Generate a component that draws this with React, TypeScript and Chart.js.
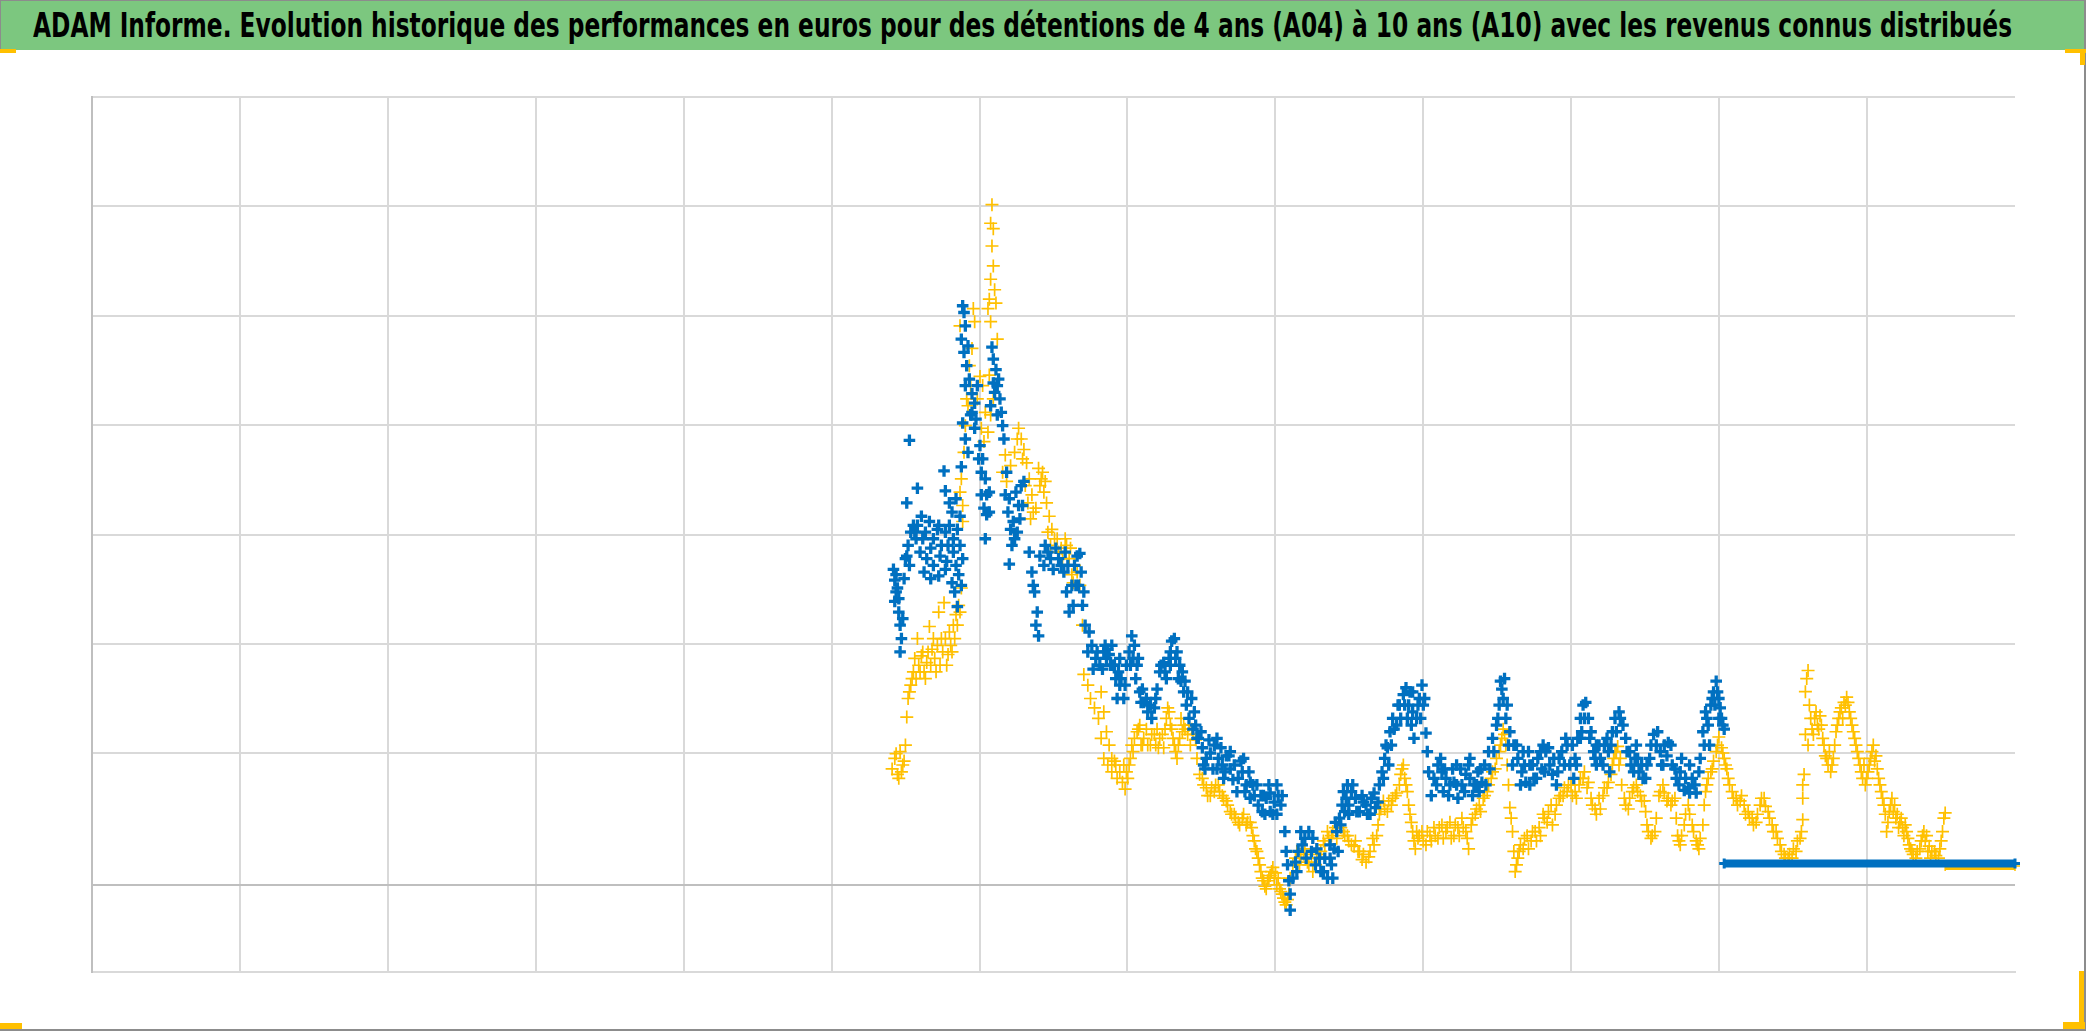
import React, { useEffect, useRef } from "react";
import { Chart, registerables } from "chart.js";

Chart.register(...registerables);

const TITLE =
  "ADAM Informe. Evolution historique des performances en euros pour des détentions de 4 ans (A04) à 10 ans (A10) avec les revenus connus distribués";

const X_MIN = 1994;
const X_MAX = 2007;
const X_TICKS = [1994, 1995, 1996, 1997, 1998, 1999, 2000, 2001, 2002, 2003, 2004, 2005, 2006];
const Y_MIN = -396;
const Y_MAX = 3603;
const Y_TICKS = [-396, 0, 603, 1103, 1603, 2103, 2603, 3103, 3603];

type P = [number, number];

// Série A04 (bleue)
const A04_1999: P[] = [
  [1999.418, 1444], [1999.427, 1395], [1999.436, 1341], [1999.427, 1298], [1999.454, 1249], [1999.463, 1189],
  [1999.472, 1128], [1999.463, 1067], [1999.445, 1359], [1999.481, 1219],
  [1999.436, 1420], [1999.454, 1310], [1999.49, 1402], [1999.508, 1505],
  [1999.499, 1493], [1999.517, 1554], [1999.535, 1614], [1999.553, 1645], [1999.571, 1584], [1999.526, 1462],
  [1999.508, 1748], [1999.526, 2034], [1999.58, 1815],
  [1999.58, 1645], [1999.607, 1687], [1999.634, 1614], [1999.661, 1663], [1999.688, 1584], [1999.715, 1627],
  [1999.742, 1554], [1999.769, 1614], [1999.796, 1645], [1999.823, 1584], [1999.85, 1627],
  [1999.598, 1523], [1999.643, 1493], [1999.688, 1462], [1999.733, 1505], [1999.778, 1481], [1999.823, 1523],
  [1999.868, 1554], [1999.625, 1432], [1999.67, 1402], [1999.724, 1414], [1999.769, 1444], [1999.814, 1383],
  [1999.859, 1420], [1999.877, 1371], [1999.832, 1341], [1999.85, 1274],
  [1999.562, 1614], [1999.616, 1584], [1999.67, 1541], [1999.724, 1645], [1999.787, 1554], [1999.841, 1462],
  [1999.886, 1493],
  [1999.76, 1894], [1999.769, 1803], [1999.796, 1748], [1999.814, 1706], [1999.841, 1767], [1999.868, 1687],
  [1999.886, 2649], [1999.895, 2618], [1999.904, 2557], [1999.877, 2496], [1999.895, 2436], [1999.913, 2375],
  [1999.931, 2314], [1999.949, 2247], [1999.967, 2204], [1999.886, 2113], [1999.904, 2040], [1999.922, 1979],
  [1999.877, 1913], [1999.94, 2150], [1999.985, 2284], [1999.967, 2089],
  [1999.904, 2284], [1999.922, 2466], [1999.949, 2162], [1999.976, 2131], [1999.994, 1949],
];

const A04_2000: P[] = [
  [2000.003, 2010], [2000.021, 1949], [2000.039, 1858], [2000.012, 1785], [2000.03, 1724], [2000.048, 1694],
  [2000.039, 1584], [2000.066, 1797], [2000.012, 1888], [2000.048, 1785], [2000.066, 1706],
  [2000.084, 2460], [2000.093, 2405], [2000.111, 2357], [2000.129, 2314], [2000.102, 2253], [2000.138, 2223],
  [2000.12, 2150], [2000.156, 2101], [2000.075, 2192], [2000.093, 2296], [2000.12, 2284], [2000.147, 2162],
  [2000.165, 2040], [2000.183, 1888], [2000.201, 1767], [2000.228, 1663], [2000.246, 1797], [2000.291, 1736],
  [2000.174, 1785], [2000.192, 1706], [2000.21, 1627], [2000.219, 1554], [2000.201, 1468], [2000.237, 1584],
  [2000.264, 1736], [2000.282, 1827], [2000.3, 1846], [2000.273, 1675], [2000.255, 1614],
  [2000.336, 1523], [2000.354, 1432], [2000.372, 1341], [2000.39, 1249], [2000.399, 1140], [2000.381, 1189],
  [2000.363, 1371], [2000.408, 1505], [2000.444, 1554], [2000.48, 1493], [2000.516, 1541], [2000.552, 1462],
  [2000.498, 1444], [2000.435, 1462], [2000.462, 1523], [2000.534, 1493],
  [2000.57, 1432], [2000.588, 1341], [2000.606, 1249], [2000.624, 1371], [2000.642, 1462], [2000.66, 1505],
  [2000.678, 1517], [2000.669, 1371], [2000.633, 1280], [2000.579, 1523], [2000.597, 1462], [2000.651, 1371],
  [2000.687, 1432], [2000.705, 1341],
  [2000.696, 1280], [2000.714, 1189], [2000.732, 1067], [2000.759, 1097], [2000.786, 1037], [2000.813, 1006],
  [2000.84, 1067], [2000.867, 1079], [2000.894, 1097], [2000.912, 1006], [2000.921, 945], [2000.93, 854],
  [2000.768, 988], [2000.831, 988], [2000.741, 1158], [2000.795, 1067], [2000.858, 1037], [2000.885, 1006],
  [2000.849, 1097], [2000.876, 1055], [2000.903, 1006], [2000.939, 976], [2000.948, 915], [2000.975, 854],
  [2000.957, 945], [2000.993, 1006], [2000.948, 1037], [2000.984, 915],
];

const A04_2001: P[] = [
  [2001.011, 1067], [2001.029, 1140], [2001.047, 1097], [2001.065, 1006], [2001.056, 945], [2001.083, 884],
  [2001.092, 836], [2001.074, 1037], [2001.02, 1006], [2001.038, 1037], [2001.101, 897], [2001.128, 854],
  [2001.155, 824], [2001.191, 854], [2001.227, 1006], [2001.254, 976], [2001.29, 1067], [2001.326, 1037],
  [2001.344, 945], [2001.371, 976], [2001.407, 884],
  [2001.11, 836], [2001.137, 793], [2001.164, 763], [2001.182, 811], [2001.2, 897], [2001.218, 976],
  [2001.245, 1018], [2001.263, 945], [2001.281, 1037], [2001.299, 1116], [2001.317, 1128], [2001.335, 1067],
  [2001.353, 1006], [2001.362, 933], [2001.29, 1006],
  [2001.38, 884], [2001.398, 824], [2001.416, 763], [2001.443, 714], [2001.461, 732], [2001.479, 672],
  [2001.506, 629], [2001.533, 580], [2001.56, 605], [2001.587, 641], [2001.614, 580], [2001.641, 550],
  [2001.668, 592], [2001.695, 532], [2001.722, 550], [2001.749, 489], [2001.776, 519], [2001.803, 459],
  [2001.83, 471], [2001.857, 410], [2001.884, 367], [2001.911, 337], [2001.938, 398], [2001.965, 422],
  [2001.992, 380],
  [2001.515, 550], [2001.605, 672], [2001.695, 611], [2001.785, 580], [2001.875, 459], [2001.92, 410],
  [2001.452, 793], [2001.65, 489], [2001.74, 428], [2001.83, 398], [2001.578, 532], [2001.965, 337],
  [2001.389, 933], [2001.434, 854], [2001.47, 672], [2001.497, 702], [2001.524, 532], [2001.551, 665],
  [2001.605, 532], [2001.632, 629], [2001.659, 519], [2001.686, 592], [2001.713, 483], [2001.767, 568],
  [2001.794, 428], [2001.821, 519], [2001.848, 459], [2001.902, 410], [2001.929, 325], [2001.956, 459],
  [2001.983, 325],
];

const A04_2002: P[] = [
  [2002.019, 410], [2002.037, 367], [2002.01, 325], [2002.01, 459], [2002.046, 410],
  [2002.064, 246], [2002.073, 155], [2002.082, 94], [2002.091, 21], [2002.1, -40], [2002.1, -113],
  [2002.118, 33], [2002.136, 106], [2002.154, 155], [2002.181, 185], [2002.208, 124], [2002.226, 246],
  [2002.244, 155], [2002.271, 94], [2002.298, 124], [2002.325, 63], [2002.352, 33], [2002.379, 94],
  [2002.397, 167], [2002.415, 246], [2002.433, 307], [2002.451, 367], [2002.478, 398], [2002.496, 325],
  [2002.424, 155], [2002.37, 124], [2002.388, 33],
  [2002.145, 63], [2002.172, 246], [2002.199, 215], [2002.253, 215], [2002.28, 167], [2002.307, 63],
  [2002.334, 124], [2002.37, 185], [2002.406, 288], [2002.46, 428], [2002.487, 459],
  [2002.442, 276], [2002.469, 337], [2002.496, 367], [2002.523, 459], [2002.541, 398], [2002.568, 337],
  [2002.595, 380], [2002.622, 325], [2002.649, 398], [2002.676, 355], [2002.703, 459], [2002.721, 519],
  [2002.739, 580], [2002.757, 629], [2002.775, 702], [2002.793, 763], [2002.82, 732], [2002.838, 824],
  [2002.865, 872], [2002.883, 903], [2002.901, 824], [2002.919, 732], [2002.937, 672], [2002.955, 763],
  [2002.973, 854], [2002.991, 915], [2002.928, 884], [2002.892, 763],
  [2002.514, 428], [2002.55, 337], [2002.586, 410], [2002.613, 367], [2002.64, 325], [2002.667, 422],
  [2002.694, 380], [2002.73, 489], [2002.748, 641], [2002.766, 550], [2002.784, 641], [2002.802, 714],
  [2002.829, 824], [2002.847, 763], [2002.874, 824], [2002.91, 884], [2002.928, 793], [2002.964, 824],
  [2002.982, 763], [2003.0, 824],
];

const A04_2003: P[] = [
  [2003.009, 854], [2003.018, 696], [2003.027, 611], [2003.036, 519], [2003.054, 410], [2003.072, 489],
  [2003.099, 550], [2003.126, 519], [2003.153, 489], [2003.18, 459], [2003.207, 471], [2003.234, 398],
  [2003.261, 459], [2003.288, 507], [2003.315, 489], [2003.342, 459], [2003.369, 519], [2003.396, 471],
  [2003.414, 550], [2003.441, 611], [2003.468, 672], [2003.495, 732], [2003.513, 824], [2003.531, 897],
  [2003.549, 945], [2003.567, 824], [2003.585, 702], [2003.612, 641], [2003.639, 580], [2003.666, 519],
  [2003.693, 471], [2003.72, 550], [2003.747, 489], [2003.774, 580], [2003.801, 532], [2003.828, 611],
  [2003.855, 550], [2003.882, 580], [2003.909, 519], [2003.936, 611], [2003.963, 672], [2003.99, 550],
  [2003.135, 428], [2003.225, 550], [2003.315, 580], [2003.378, 428], [2003.72, 459], [2003.81, 641],
  [2003.9, 459], [2003.675, 611],
  [2003.09, 459], [2003.117, 580], [2003.144, 532], [2003.171, 410], [2003.198, 532], [2003.225, 459],
  [2003.252, 532], [2003.279, 428], [2003.306, 550], [2003.333, 410], [2003.36, 459], [2003.387, 532],
  [2003.423, 459], [2003.45, 532], [2003.477, 611], [2003.504, 763], [2003.522, 933], [2003.54, 854],
  [2003.558, 763], [2003.576, 641], [2003.603, 550], [2003.63, 641], [2003.657, 459], [2003.684, 550],
  [2003.711, 611], [2003.738, 550], [2003.765, 489], [2003.792, 611], [2003.819, 519], [2003.846, 629],
  [2003.873, 507], [2003.918, 580], [2003.954, 550], [2003.972, 641],
];

const A04_2004: P[] = [
  [2004.017, 489], [2004.008, 641], [2004.026, 580], [2004.044, 672], [2004.062, 763], [2004.08, 824],
  [2004.098, 836], [2004.116, 763], [2004.134, 702], [2004.152, 611], [2004.17, 550], [2004.197, 580],
  [2004.224, 641], [2004.251, 611], [2004.278, 702], [2004.296, 763], [2004.323, 793], [2004.35, 732],
  [2004.377, 611], [2004.404, 550], [2004.431, 580], [2004.458, 519], [2004.485, 489], [2004.512, 550],
  [2004.539, 641], [2004.557, 690], [2004.584, 702], [2004.602, 611], [2004.629, 641], [2004.656, 653],
  [2004.683, 550], [2004.71, 489], [2004.728, 459], [2004.746, 580], [2004.764, 434], [2004.791, 446],
  [2004.818, 489], [2004.845, 422], [2004.872, 580], [2004.89, 702], [2004.908, 793], [2004.926, 732],
  [2004.944, 824], [2004.962, 884], [2004.98, 933], [2004.998, 854], [2005.016, 763], [2005.034, 714],
  [2004.17, 641], [2004.26, 519], [2004.44, 641], [2004.62, 550], [2004.8, 550], [2004.062, 672],
  [2004.935, 641], [2004.998, 763],
  [2004.035, 550], [2004.071, 702], [2004.089, 763], [2004.125, 672], [2004.161, 580], [2004.188, 641],
  [2004.215, 550], [2004.242, 672], [2004.269, 641], [2004.305, 702], [2004.332, 763], [2004.368, 672],
  [2004.395, 611], [2004.422, 519], [2004.449, 580], [2004.476, 550], [2004.503, 489], [2004.53, 580],
  [2004.575, 641], [2004.611, 550], [2004.647, 592], [2004.674, 641], [2004.701, 532], [2004.737, 519],
  [2004.773, 489], [2004.8, 422], [2004.836, 459], [2004.863, 519], [2004.899, 641], [2004.917, 763],
  [2004.953, 854], [2004.971, 824], [2004.989, 884], [2005.007, 811], [2005.025, 732],
];

const A04_FLAT: P[] = [[2005.034, 100], [2007.0, 100]];

// Série A10 (jaune)
const A10_1999: P[] = [
  [1999.409, 532], [1999.427, 580], [1999.445, 507], [1999.463, 611], [1999.481, 550], [1999.499, 641],
  [1999.454, 489], [1999.436, 602], [1999.472, 519], [1999.49, 568],
  [1999.508, 769], [1999.517, 854], [1999.535, 915], [1999.553, 976], [1999.571, 945], [1999.589, 1006],
  [1999.607, 1049], [1999.625, 976], [1999.643, 1018], [1999.661, 1183], [1999.679, 1079], [1999.697, 1037],
  [1999.715, 1097], [1999.733, 1006], [1999.751, 1067], [1999.769, 1128], [1999.787, 1055], [1999.805, 1097],
  [1999.823, 1189], [1999.841, 1237], [1999.859, 1280], [1999.724, 1249], [1999.76, 1292], [1999.58, 1128],
  [1999.526, 884], [1999.544, 945], [1999.562, 1037], [1999.598, 976], [1999.616, 1067], [1999.634, 945],
  [1999.652, 1067], [1999.67, 1006], [1999.688, 1128], [1999.706, 976], [1999.742, 1128], [1999.778, 1006],
  [1999.796, 1158], [1999.814, 1067], [1999.832, 1128], [1999.85, 1189], [1999.868, 1249],
  [1999.877, 1359], [1999.886, 1663], [1999.886, 1736], [1999.868, 1797], [1999.877, 1858], [1999.895, 1979],
  [1999.904, 2101], [1999.922, 2192], [1999.94, 2284], [1999.931, 2375], [1999.949, 2454], [1999.868, 2557],
  [1999.958, 2636], [1999.967, 2576], [1999.913, 2223], [1999.985, 2223],
];

const A10_2000: P[] = [
  [2000.003, 2326], [2000.021, 2284], [2000.039, 2162], [2000.057, 2071], [2000.075, 2150], [2000.012, 2089],
  [2000.03, 2028], [2000.066, 2332], [2000.093, 2223], [2000.12, 2496], [2000.057, 2636], [2000.075, 2576],
  [2000.111, 2661],
  [2000.084, 3111], [2000.075, 3026], [2000.084, 2922], [2000.093, 2831], [2000.075, 2770], [2000.102, 2722],
  [2000.066, 2679], [2000.093, 3001],
  [2000.156, 1888], [2000.183, 1846], [2000.174, 1967], [2000.264, 2089], [2000.282, 2040], [2000.3, 1992],
  [2000.318, 1931], [2000.309, 1827], [2000.327, 1748], [2000.345, 1675], [2000.363, 1706], [2000.399, 1906],
  [2000.417, 1858], [2000.435, 1797], [2000.453, 1748], [2000.462, 1614], [2000.48, 1554], [2000.507, 1584],
  [2000.534, 1523], [2000.561, 1493], [2000.588, 1554], [2000.606, 1493], [2000.624, 1420], [2000.642, 1462],
  [2000.21, 1918], [2000.237, 1979], [2000.255, 2040], [2000.291, 1949], [2000.336, 1858], [2000.354, 1785],
  [2000.381, 1724], [2000.408, 1827], [2000.426, 1888], [2000.444, 1846], [2000.471, 1687], [2000.489, 1627],
  [2000.525, 1584], [2000.552, 1541], [2000.579, 1584], [2000.615, 1541], [2000.633, 1383], [2000.66, 1432],
  [2000.678, 1371], [2000.696, 1189], [2000.705, 964], [2000.732, 915], [2000.75, 854], [2000.777, 811],
  [2000.804, 763], [2000.822, 672], [2000.84, 580], [2000.867, 550], [2000.894, 519], [2000.912, 568],
  [2000.93, 489],
  [2000.822, 884], [2000.84, 793], [2000.858, 702], [2000.876, 641], [2000.894, 580], [2000.921, 550],
  [2000.948, 519], [2000.966, 471], [2000.984, 440], [2000.975, 550], [2000.993, 519],
];

const A10_2001: P[] = [
  [2001.002, 489], [2001.02, 580], [2001.038, 611], [2001.065, 702], [2001.083, 732], [2001.11, 672],
  [2001.137, 641], [2001.164, 690], [2001.191, 641], [2001.218, 672], [2001.245, 629], [2001.263, 763],
  [2001.281, 793], [2001.299, 714], [2001.317, 641], [2001.335, 580], [2001.353, 672], [2001.38, 732],
  [2001.407, 690], [2001.434, 714], [2001.461, 665],
  [2001.092, 641], [2001.2, 714], [2001.362, 763], [2001.425, 641],
  [2001.011, 550], [2001.029, 641], [2001.047, 672], [2001.074, 714], [2001.101, 641], [2001.128, 714],
  [2001.155, 641], [2001.182, 690], [2001.209, 629], [2001.236, 690], [2001.254, 714], [2001.272, 811],
  [2001.29, 732], [2001.308, 672], [2001.326, 611], [2001.344, 641], [2001.371, 702], [2001.389, 714],
  [2001.416, 732], [2001.443, 690], [2001.47, 580],
  [2001.488, 507], [2001.515, 459], [2001.542, 410], [2001.569, 446], [2001.596, 459], [2001.623, 428],
  [2001.65, 398], [2001.677, 367], [2001.704, 325], [2001.731, 307], [2001.758, 276], [2001.785, 325],
  [2001.812, 288], [2001.839, 264], [2001.857, 203], [2001.875, 155], [2001.893, 94], [2001.911, 33],
  [2001.929, -4], [2001.947, 21], [2001.965, 45], [2001.983, 82],
  [2001.506, 489], [2001.533, 446], [2001.56, 410], [2001.587, 428], [2001.614, 459], [2001.641, 410],
  [2001.668, 386], [2001.695, 337], [2001.722, 325], [2001.749, 288], [2001.776, 307], [2001.803, 276],
  [2001.83, 288], [2001.848, 227], [2001.866, 167], [2001.884, 124], [2001.902, 63], [2001.92, 21],
  [2001.938, -16], [2001.956, 33], [2001.974, 63], [2001.992, 33],
];

const A10_2002: P[] = [
  [2002.001, 57], [2002.019, 33], [2002.037, -28], [2002.055, -58], [2002.073, -89], [2002.091, -40],
  [2002.01, 2], [2002.028, -16], [2002.046, -40], [2002.064, -77], [2002.082, -65], [2002.1, 33],
  [2002.118, 94], [2002.145, 155], [2002.172, 124], [2002.199, 167], [2002.226, 94], [2002.253, 63],
  [2002.28, 124], [2002.307, 155], [2002.334, 185], [2002.361, 215], [2002.388, 246], [2002.415, 215],
  [2002.136, 124], [2002.163, 94], [2002.19, 142], [2002.217, 106], [2002.244, 124], [2002.271, 94],
  [2002.298, 142], [2002.325, 203], [2002.352, 246], [2002.379, 227], [2002.406, 264],
  [2002.442, 264], [2002.469, 227], [2002.496, 203], [2002.532, 179], [2002.559, 155], [2002.586, 118],
  [2002.613, 106], [2002.64, 155], [2002.667, 185], [2002.694, 276], [2002.712, 349], [2002.73, 386],
  [2002.757, 337], [2002.784, 367], [2002.811, 410], [2002.838, 459], [2002.856, 532], [2002.874, 489],
  [2002.892, 428], [2002.91, 325], [2002.928, 246], [2002.946, 167], [2002.964, 215], [2002.991, 246],
  [2002.46, 246], [2002.487, 227], [2002.514, 185], [2002.541, 203], [2002.568, 155], [2002.595, 142],
  [2002.631, 130], [2002.658, 215], [2002.685, 227], [2002.703, 325], [2002.739, 349], [2002.766, 386],
  [2002.793, 398], [2002.82, 422], [2002.847, 507], [2002.865, 550], [2002.883, 459], [2002.901, 367],
  [2002.919, 288], [2002.937, 203], [2002.955, 246], [2002.973, 227], [2003.0, 203],
];

const A10_2003: P[] = [
  [2003.018, 185], [2003.045, 227], [2003.072, 264], [2003.099, 215], [2003.126, 276], [2003.153, 246],
  [2003.18, 288], [2003.207, 227], [2003.234, 264], [2003.261, 307], [2003.288, 246], [2003.306, 167],
  [2003.324, 276], [2003.351, 325], [2003.378, 367], [2003.405, 398], [2003.432, 428], [2003.459, 489],
  [2003.486, 532], [2003.513, 611], [2003.531, 672], [2003.54, 714], [2003.558, 641], [2003.567, 550],
  [2003.576, 459], [2003.585, 355], [2003.603, 246], [2003.612, 155], [2003.621, 63], [2003.639, 124],
  [2003.657, 185], [2003.684, 215], [2003.711, 167], [2003.738, 246], [2003.765, 203], [2003.792, 227],
  [2003.819, 307], [2003.846, 337], [2003.873, 276], [2003.9, 367], [2003.927, 410], [2003.954, 446],
  [2003.981, 459],
  [2003.027, 246], [2003.054, 203], [2003.081, 227], [2003.108, 264], [2003.135, 215], [2003.162, 264],
  [2003.189, 215], [2003.216, 276], [2003.243, 227], [2003.27, 264], [2003.297, 215], [2003.333, 307],
  [2003.36, 349], [2003.387, 337], [2003.414, 410], [2003.441, 459], [2003.468, 519], [2003.495, 580],
  [2003.522, 641], [2003.549, 690], [2003.594, 307], [2003.63, 94], [2003.648, 155], [2003.675, 167],
  [2003.702, 227], [2003.729, 203], [2003.756, 246], [2003.783, 264], [2003.81, 325], [2003.837, 288],
  [2003.864, 367], [2003.891, 325], [2003.918, 398], [2003.945, 410], [2003.972, 428], [2003.999, 459],
];

const A10_2004: P[] = [
  [2004.008, 410], [2004.035, 398], [2004.062, 489], [2004.089, 519], [2004.116, 471], [2004.143, 367],
  [2004.17, 325], [2004.197, 349], [2004.224, 446], [2004.251, 471], [2004.278, 550], [2004.296, 611],
  [2004.314, 635], [2004.332, 580], [2004.359, 398], [2004.386, 349], [2004.413, 428], [2004.44, 459],
  [2004.467, 410], [2004.494, 386], [2004.512, 276], [2004.539, 215], [2004.566, 246], [2004.593, 410],
  [2004.62, 459], [2004.647, 386], [2004.674, 367], [2004.701, 398], [2004.719, 227], [2004.737, 185],
  [2004.764, 276], [2004.791, 367], [2004.818, 276], [2004.845, 203], [2004.863, 167], [2004.89, 276],
  [2004.908, 428], [2004.926, 489], [2004.953, 532], [2004.98, 611],
  [2004.026, 428], [2004.053, 459], [2004.08, 489], [2004.107, 446], [2004.134, 398], [2004.161, 349],
  [2004.188, 398], [2004.215, 410], [2004.242, 446], [2004.269, 507], [2004.287, 580], [2004.305, 611],
  [2004.323, 550], [2004.341, 459], [2004.368, 367], [2004.395, 398], [2004.422, 446], [2004.449, 428],
  [2004.476, 386], [2004.503, 337], [2004.521, 246], [2004.548, 227], [2004.575, 307], [2004.602, 428],
  [2004.629, 422], [2004.656, 398], [2004.683, 386], [2004.71, 307], [2004.728, 203], [2004.746, 227],
  [2004.773, 325], [2004.8, 325], [2004.827, 246], [2004.854, 185], [2004.872, 215], [2004.899, 367],
  [2004.917, 459], [2004.944, 519], [2004.962, 568], [2004.989, 641],
];

const A10_2005: P[] = [
  [2004.998, 678], [2005.016, 629], [2005.034, 580], [2005.052, 532], [2005.07, 459], [2005.097, 398],
  [2005.124, 367], [2005.151, 410], [2005.178, 325], [2005.205, 307], [2005.232, 276], [2005.259, 325],
  [2005.286, 398], [2005.313, 361], [2005.34, 307], [2005.367, 246], [2005.394, 215], [2005.421, 155],
  [2005.448, 124], [2005.475, 142], [2005.502, 167], [2005.529, 203], [2005.556, 246], [2005.565, 398],
  [2005.565, 459], [2005.574, 507], [2005.565, 300],
  [2005.025, 605], [2005.043, 550], [2005.061, 489], [2005.088, 428], [2005.115, 398], [2005.142, 386],
  [2005.169, 367], [2005.196, 337], [2005.223, 307], [2005.25, 288], [2005.277, 367], [2005.304, 398],
  [2005.331, 337], [2005.358, 276], [2005.385, 246], [2005.412, 185], [2005.439, 142], [2005.466, 124],
  [2005.493, 124], [2005.52, 155], [2005.547, 215],
  [2005.583, 885], [2005.592, 945], [2005.601, 982], [2005.61, 824], [2005.583, 690], [2005.601, 641],
  [2005.628, 714], [2005.646, 763], [2005.664, 732], [2005.682, 775], [2005.7, 672], [2005.718, 592],
  [2005.736, 550], [2005.754, 519], [2005.772, 580], [2005.79, 702], [2005.808, 763], [2005.826, 811],
  [2005.844, 836], [2005.862, 860], [2005.88, 793], [2005.898, 732], [2005.916, 672], [2005.934, 611],
  [2005.952, 550], [2005.97, 489], [2005.988, 459],
  [2005.619, 763], [2005.637, 690], [2005.655, 793], [2005.673, 714], [2005.691, 732], [2005.709, 641],
  [2005.727, 580], [2005.745, 611], [2005.763, 550], [2005.781, 641], [2005.799, 732], [2005.817, 793],
  [2005.835, 763], [2005.853, 824], [2005.871, 836], [2005.889, 763], [2005.907, 702], [2005.925, 641],
  [2005.943, 580], [2005.961, 519], [2005.979, 550], [2005.997, 489],
];

const A10_2006: P[] = [
  [2006.006, 519], [2006.024, 580], [2006.042, 641], [2006.06, 592], [2006.078, 489], [2006.096, 428],
  [2006.114, 367], [2006.132, 246], [2006.15, 337], [2006.168, 398], [2006.186, 367], [2006.204, 325],
  [2006.222, 288], [2006.24, 264], [2006.258, 276], [2006.276, 215], [2006.294, 167], [2006.312, 142],
  [2006.339, 155], [2006.366, 203], [2006.384, 246], [2006.402, 227], [2006.42, 179], [2006.438, 155],
  [2006.465, 136], [2006.492, 167], [2006.51, 246], [2006.519, 307], [2006.528, 331],
  [2006.015, 550], [2006.033, 611], [2006.051, 568], [2006.069, 532], [2006.087, 459], [2006.105, 398],
  [2006.123, 325], [2006.141, 288], [2006.159, 367], [2006.177, 337], [2006.195, 307], [2006.213, 264],
  [2006.231, 307], [2006.249, 227], [2006.267, 246], [2006.285, 185], [2006.303, 155], [2006.33, 124],
  [2006.357, 167], [2006.375, 227], [2006.393, 203], [2006.411, 155], [2006.429, 124], [2006.456, 155],
  [2006.483, 124], [2006.501, 203],
];

const A10_FLAT: P[] = [[2006.528, 88], [2007.0, 88]];

const BLUE = "#0070C0";
const YELLOW = "#FFC000";
const GREEN = "#7cc77f";
const GRID = "#d9d9d9";
const AXIS = "#bfbfbf";

const toXY = (arr: P[]) => arr.map(([x, y]) => ({ x, y }));

export default function App() {
  const canvasRef = useRef<HTMLCanvasElement | null>(null);
  const titleRef = useRef<HTMLSpanElement | null>(null);

  useEffect(() => {
    document.body.style.margin = "0";
    const fit = () => {
      const el = titleRef.current;
      if (!el) return;
      el.style.transform = "none";
      const w = el.getBoundingClientRect().width;
      if (w > 0) el.style.transform = `scaleX(${1979 / w})`;
    };
    fit();
    if ((document as any).fonts && (document as any).fonts.ready) {
      (document as any).fonts.ready.then(fit);
    }

    const canvas = canvasRef.current;
    if (!canvas) return;
    const chart = new Chart(canvas, {
      type: "scatter",
      data: {
        datasets: [
          {
            label: "A04",
            data: toXY(A04_FLAT),
            showLine: true,
            borderColor: BLUE,
            backgroundColor: BLUE,
            borderWidth: 8,
            pointStyle: "cross",
            pointRadius: 5,
            pointBorderWidth: 3,
            clip: false,
            order: 0,
          } as any,
          {
            label: "A04",
            data: toXY([...A04_1999, ...A04_2000, ...A04_2001, ...A04_2002, ...A04_2003, ...A04_2004]),
            borderColor: BLUE,
            backgroundColor: BLUE,
            pointStyle: "cross",
            pointRadius: 5.8,
            pointBorderWidth: 3.3,
            clip: false,
            order: 1,
          } as any,
          {
            label: "A10",
            data: toXY(A10_FLAT),
            showLine: true,
            borderColor: YELLOW,
            backgroundColor: YELLOW,
            borderWidth: 8,
            pointStyle: "cross",
            pointRadius: 5,
            pointBorderWidth: 1.5,
            clip: false,
            order: 2,
          } as any,
          {
            label: "A10",
            data: toXY([
              ...A10_1999, ...A10_2000, ...A10_2001, ...A10_2002, ...A10_2003, ...A10_2004, ...A10_2005, ...A10_2006,
            ]),
            borderColor: YELLOW,
            backgroundColor: YELLOW,
            pointStyle: "cross",
            pointRadius: 6.5,
            pointBorderWidth: 1.7,
            clip: false,
            order: 3,
          } as any,
        ],
      },
      options: {
        responsive: false,
        animation: false,
        devicePixelRatio: 1,
        layout: { padding: { left: 92, top: 97, right: 71, bottom: 59 } },
        plugins: {
          legend: { display: false },
          tooltip: { enabled: false },
          title: { display: false },
        },
        scales: {
          x: {
            type: "linear",
            min: X_MIN,
            max: X_MAX,
            afterBuildTicks: (s: any) => {
              s.ticks = X_TICKS.map((v) => ({ value: v }));
            },
            afterFit: (s: any) => {
              s.height = 0;
            },
            ticks: { display: false },
            grid: { color: GRID, lineWidth: 2, drawTicks: false },
            border: { display: true, color: GRID, width: 2 },
          },
          y: {
            type: "linear",
            min: Y_MIN,
            max: Y_MAX,
            afterBuildTicks: (s: any) => {
              s.ticks = Y_TICKS.map((v) => ({ value: v }));
            },
            afterFit: (s: any) => {
              s.width = 0;
            },
            ticks: { display: false },
            grid: {
              color: (ctx: any) => (ctx.tick && ctx.tick.value === 0 ? AXIS : GRID),
              lineWidth: 2,
              drawTicks: false,
            },
            border: { display: true, color: AXIS, width: 2 },
          },
        },
      } as any,
    });
    return () => chart.destroy();
  }, []);

  const mark = (left: number, top: number, width: number, height: number) => (
    <div style={{ position: "absolute", left, top, width, height, background: YELLOW }} />
  );

  return (
    <div
      style={{
        position: "relative",
        width: 2086,
        height: 1031,
        background: "#ffffff",
        overflow: "hidden",
      }}
    >
      <canvas
        ref={canvasRef}
        width={2086}
        height={1031}
        style={{ position: "absolute", left: 0, top: 0, width: 2086, height: 1031 }}
      />
      <div
        style={{
          position: "absolute",
          left: 0,
          top: 0,
          width: 2086,
          height: 50,
          background: GREEN,
          borderTop: "1px solid #8c8c8c",
          borderLeft: "1px solid #8c8c8c",
          boxSizing: "border-box",
        }}
      >
        <span
          ref={titleRef}
          style={{
            position: "absolute",
            left: 32,
            top: 0,
            lineHeight: "49px",
            fontFamily: '"Liberation Sans Narrow", "DejaVu Sans Condensed", "Liberation Sans", sans-serif',
            fontWeight: 700,
            fontSize: 34,
            color: "#000",
            whiteSpace: "nowrap",
            transformOrigin: "left center",
            display: "inline-block",
          }}
        >
          {TITLE}
        </span>
      </div>
      <div style={{ position: "absolute", right: 0, top: 0, width: 2, height: 1031, background: "#8c8c8c" }} />
      <div style={{ position: "absolute", left: 0, bottom: 0, width: 2086, height: 2, background: "#8c8c8c" }} />
      {mark(0, 49, 16, 4)}
      {mark(2065, 49, 21, 4)}
      {mark(2080, 49, 5, 16)}
      {mark(0, 1023, 22, 6)}
      {mark(2063, 1022, 22, 7)}
      {mark(2079, 971, 5, 58)}
    </div>
  );
}
